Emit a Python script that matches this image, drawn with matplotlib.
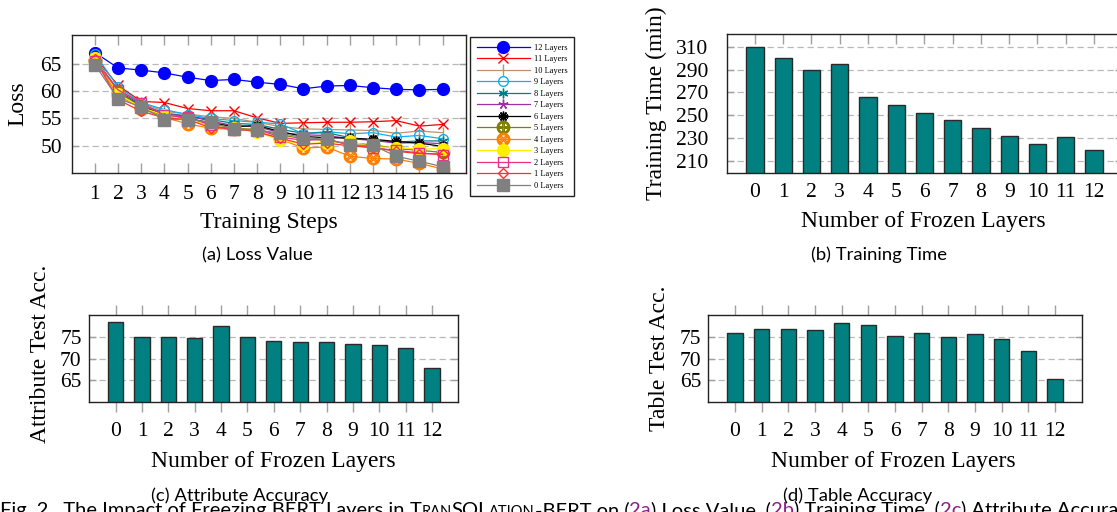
import numpy as np
import matplotlib.pyplot as plt

plt.rcParams['font.family'] = ['Liberation Serif', 'DejaVu Serif']

# ---- data ----
steps = list(range(1, 17))
layer_labels = ['12 Layers', '11 Layers', '10 Layers', '9 Layers', '8 Layers', '7 Layers',
                '6 Layers', '5 Layers', '4 Layers', '3 Layers', '2 Layers', '1 Layers', '0 Layers']

loss_12 = [67.0, 64.2, 63.8, 63.3, 62.5, 61.9, 62.1, 61.6, 61.2, 60.4, 60.9, 61.0, 60.6, 60.3, 60.2, 60.3]
loss_11 = [66.2, 61.0, 58.1, 57.9, 56.8, 56.4, 56.4, 55.1, 54.1, 54.2, 54.3, 54.3, 54.4, 54.6, 53.6, 53.9]
loss_10 = [65.8, 60.3, 57.8, 56.3, 55.8, 55.3, 55.0, 54.3, 53.5, 53.1, 53.0, 52.9, 52.8, 52.3, 52.7, 52.4]
loss_9 = [66.8, 60.7, 57.9, 56.6, 55.7, 55.0, 54.6, 54.3, 54.0, 52.2, 52.6, 52.2, 52.4, 51.6, 51.9, 51.3]
loss_8 = [66.0, 60.0, 57.5, 56.0, 55.4, 54.8, 54.1, 53.9, 53.0, 52.3, 52.4, 51.5, 51.0, 50.7, 50.9, 50.9]
loss_7 = [65.9, 59.8, 57.3, 55.7, 55.5, 54.5, 53.7, 53.5, 52.4, 52.0, 51.9, 51.3, 51.0, 50.5, 50.6, 50.4]
loss_6 = [65.7, 59.6, 57.2, 55.5, 55.0, 54.2, 53.5, 53.7, 52.6, 51.7, 51.5, 51.4, 51.2, 50.8, 50.5, 49.9]
loss_5 = [65.6, 59.9, 57.0, 55.4, 55.1, 54.0, 53.2, 53.0, 52.0, 51.3, 51.0, 50.5, 50.2, 49.5, 49.2, 48.8]
loss_4 = [65.5, 59.2, 56.8, 55.2, 54.0, 53.2, 53.0, 52.7, 51.2, 49.6, 49.8, 48.1, 47.7, 47.6, 46.8, 45.8]
loss_3 = [66.0, 59.5, 57.0, 55.6, 54.7, 53.7, 53.2, 52.6, 51.0, 50.4, 50.6, 50.8, 49.8, 49.7, 49.4, 49.5]
loss_2 = [65.5, 60.2, 57.8, 55.6, 55.2, 53.8, 52.8, 53.0, 51.6, 51.0, 51.2, 50.2, 49.6, 49.2, 48.7, 48.4]
loss_1 = [65.8, 58.4, 56.3, 55.1, 54.8, 53.3, 53.3, 52.5, 51.4, 50.3, 50.5, 50.0, 49.7, 49.0, 48.6, 48.5]
loss_0 = [64.8, 58.6, 57.1, 54.8, 54.8, 54.3, 53.0, 52.9, 52.3, 51.5, 51.2, 50.1, 50.1, 48.1, 47.2, 46.2]

frozen = list(range(13))
train_time = [310, 300, 290, 295, 266, 259, 252, 246, 239, 232, 225, 231, 220]
attr_acc = [78.5, 75.1, 75.1, 74.8, 77.6, 75.1, 74.1, 73.8, 73.8, 73.4, 73.2, 72.4, 67.9]
table_acc = [75.9, 77.0, 77.0, 76.6, 78.4, 77.8, 75.3, 76.0, 75.1, 75.8, 74.7, 71.9, 65.3]

# style per series: color, marker, size, filled
styles = [
    ('#0000ff', 'o', 8.5, True),
    ('#ff0000', 'x', 6.5, False),
    ('#c0916a', '|', 8, False),
    ('#12aee8', 'o', 7, False),
    ('#008080', (6, 2, 0), 7, False),
    ('#9b30a8', (5, 2, 0), 7, False),
    ('#000000', (10, 2, 0), 7, False),
    ('#808000', r'$\oplus$', 9, False),
    ('#ff8000', r'$\otimes$', 9, False),
    ('#ffee00', 'o', 8.5, True),
    ('#e8308c', 's', 7, False),
    ('#ff3030', 'D', 5.5, False),
    ('#808080', 's', 8, True),
]
loss_series = [loss_12, loss_11, loss_10, loss_9, loss_8, loss_7, loss_6,
               loss_5, loss_4, loss_3, loss_2, loss_1, loss_0]

W, H = 1117, 512
fig = plt.figure(figsize=(W / 100, H / 100), dpi=100)

TICK = '#a0a0a0'
GRID = '#b8b8b8'
TEAL = '#008080'
TS = 15.5   # tick label size
LS = 17     # axis label size


def px_axes(l, t, r, b):
    return fig.add_axes([l / W, 1 - b / H, (r - l) / W, (b - t) / H])


def style_axes(ax, xdir='in', xpad=9.0, ypad=6.0):
    for s in ax.spines.values():
        s.set_color('#222222')
        s.set_linewidth(1.0)
    ax.tick_params(axis='x', which='both', direction=xdir, top=True, bottom=True,
                   color=TICK, length=7, width=1.0, labelsize=TS, pad=xpad)
    ax.tick_params(axis='y', which='both', direction='in', left=True, right=True,
                   color=TICK, length=5, width=1.0, labelsize=TS, pad=ypad)
    ax.yaxis.grid(True, color=GRID, linestyle=(0, (5, 3)), linewidth=0.9)
    ax.set_axisbelow(True)


# ---- (a) loss ----
ax = px_axes(71.7, 35, 465.7, 173.3)
lines = []
for vals, lab, (c, m, ms, filled) in zip(loss_series, layer_labels, styles):
    ln, = ax.plot(steps, vals, color=c, lw=0.9, marker=m, markersize=ms,
                  markerfacecolor=c if filled else 'none', markeredgecolor=c,
                  markeredgewidth=1.0, label=lab)
    lines.append(ln)
ax.set_xlim(0, 17)
ax.set_ylim(45, 70.2)
ax.set_xticks(steps)
ax.set_yticks([50, 55, 60, 65])
style_axes(ax, xpad=8.5, ypad=7)
ax.set_xlabel('Training Steps', fontsize=LS)
ax.xaxis.set_label_coords(0.5, -0.357)
ax.xaxis.label.set_va('center')
ax.set_ylabel('Loss', fontsize=LS)
ax.yaxis.set_label_coords(-0.1376, 0.5)
ax.yaxis.label.set_va('center')

fig.legend(handles=lines, loc='upper left', bbox_to_anchor=(470 / W, 1 - 37 / H),
           borderaxespad=0, fontsize=6, frameon=True, fancybox=False, edgecolor='#222222',
           framealpha=1, handlelength=6.4, labelspacing=0.42, borderpad=0.8, handletextpad=0.5)


def bar_panel(box, vals, ylim, yticks, ylabel, ylx, yly, xdir, xpad, ypad, bw):
    ax = px_axes(*box)
    ax.bar(frozen, vals, width=bw, color=TEAL, edgecolor='#2a2a2a', linewidth=1.0, zorder=2)
    ax.set_xlim(-1, 13)
    ax.set_ylim(*ylim)
    ax.set_xticks(frozen)
    ax.set_yticks(yticks)
    style_axes(ax, xdir=xdir, xpad=xpad, ypad=ypad)
    ax.set_ylabel(ylabel, fontsize=LS)
    ax.yaxis.set_label_coords(ylx, yly)
    ax.yaxis.label.set_va('center')
    ax.set_xlabel('Number of Frozen Layers', fontsize=LS)
    return ax


# ---- (b) training time ----
axb = bar_panel((726.7, 34.3, 1122.2, 172.7), train_time, (199.8, 320.8),
                list(range(210, 311, 20)), 'Training Time (min)', -0.177, 0.5,
                'in', 7.7, 13.5, 0.61)
axb.xaxis.set_label_coords(0.496, -0.354)
axb.xaxis.label.set_va('center')

# ---- (c) attribute accuracy ----
axc = bar_panel((89.3, 315, 458.3, 401.7), attr_acc, (60, 80.2), [65, 70, 75],
                'Attribute Test Acc.', -0.1336, 0.55, 'out', 7.8, 5.5, 0.58)
axc.xaxis.set_label_coords(0.498, -0.692)
axc.xaxis.label.set_va('center')

# ---- (d) table accuracy ----
axd = bar_panel((708.3, 315, 1081.7, 401.7), table_acc, (60, 80.2), [65, 70, 75],
                'Table Test Acc.', -0.132, 0.5, 'out', 7.8, 5.0, 0.58)
axd.xaxis.set_label_coords(0.495, -0.692)
axd.xaxis.label.set_va('center')

# ---- sub captions ----
SANS = ['Lato', 'DejaVu Sans']
for txt, x, y in [('(a) Loss Value', 257, 255.7), ('(b) Training Time', 879, 255),
                  ('(c) Attribute Accuracy', 240, 496), ('(d) Table Accuracy', 858, 496)]:
    fig.text(x / W, 1 - y / H, txt, ha='center', va='center', fontsize=13.3, family=SANS)

# ---- figure caption (cut at the bottom edge) ----
renderer = fig.canvas.get_renderer()
CF, SC = 14.5, 10.5
LINK = '#8b1f8b'
parts = [('Fig. 2.  The Impact of Freezing BERT Layers in ', CF, 'black'),
         ('T', CF, 'black'), ('RAN', SC, 'black'), ('SQL', CF, 'black'), ('ATION', SC, 'black'),
         ('-BERT on (', CF, 'black'), ('2a', CF, LINK), (') Loss Value, (', CF, 'black'),
         ('2b', CF, LINK), (') Training Time, (', CF, 'black'), ('2c', CF, LINK),
         (') Attribute Accuracy, and (', CF, 'black'), ('2d', CF, LINK),
         (') Table Accuracy.', CF, 'black')]
xpos = 0.0
ybase = 1 - 516 / H
for s, fs, col in parts:
    t = fig.text(xpos / W, ybase, s, ha='left', va='baseline', fontsize=fs, family=SANS, color=col)
    xpos += t.get_window_extent(renderer=renderer).width

fig.savefig('out.png', dpi=100)
